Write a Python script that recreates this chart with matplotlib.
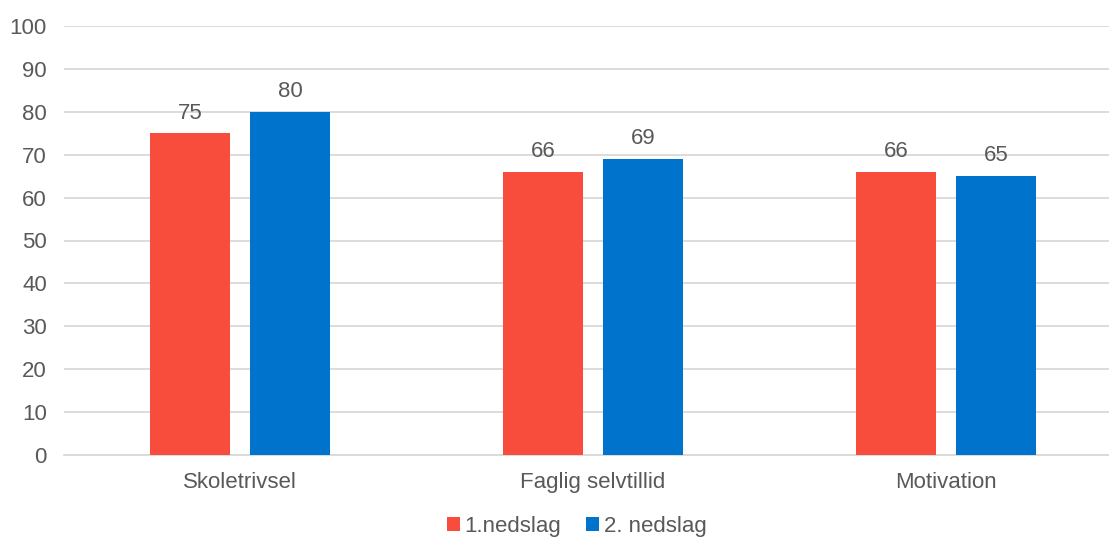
import numpy as np
import matplotlib.pyplot as plt

plt.rcParams['font.family'] = ['Liberation Sans', 'DejaVu Sans']

categories = ['Skoletrivsel', 'Faglig selvtillid', 'Motivation']
series_names = ['1.nedslag', '2. nedslag']
first_values = [75, 66, 66]
second_values = [80, 69, 65]
y_ticks = [0, 10, 20, 30, 40, 50, 60, 70, 80, 90, 100]

red = '#F84C3C'
blue = '#0074CC'
text_gray = '#595959'
grid_gray = '#D9D9D9'

fig = plt.figure(figsize=(11.09, 5.38), dpi=100)
# axes reach a bit past the right edge, like the source
ax = fig.add_axes([63.5 / 1109, 83 / 538, 1059 / 1109, 429 / 538])

x = np.arange(len(categories))
w = 0.2266
off = 0.1416

b1 = ax.bar(x - off, first_values, w, color=red, label=series_names[0], zorder=3)
b2 = ax.bar(x + off, second_values, w, color=blue, label=series_names[1], zorder=3)

for bars in (b1, b2):
    ax.bar_label(bars, padding=7, fontsize=16, color=text_gray)

ax.set_xlim(-0.5, 2.5)
ax.set_ylim(0, 100)
ax.set_yticks(y_ticks)
ax.set_xticks(x)
ax.set_xticklabels(categories)
ax.tick_params(axis='both', length=0, labelsize=16, labelcolor=text_gray)
ax.tick_params(axis='x', pad=12)
ax.tick_params(axis='y', pad=12)
ax.grid(axis='y', color=grid_gray, linewidth=1.3, zorder=0)
for s in ['top', 'right', 'left']:
    ax.spines[s].set_visible(False)
ax.spines['bottom'].set_color(grid_gray)
ax.spines['bottom'].set_linewidth(1.3)

fig.legend(loc='lower center', bbox_to_anchor=(0.52, -0.035), ncol=2, frameon=False,
           fontsize=16, labelcolor=text_gray, handlelength=0.6, handleheight=0.6,
           handletextpad=0.2, columnspacing=1.1)

fig.savefig('out.png', dpi=100)
